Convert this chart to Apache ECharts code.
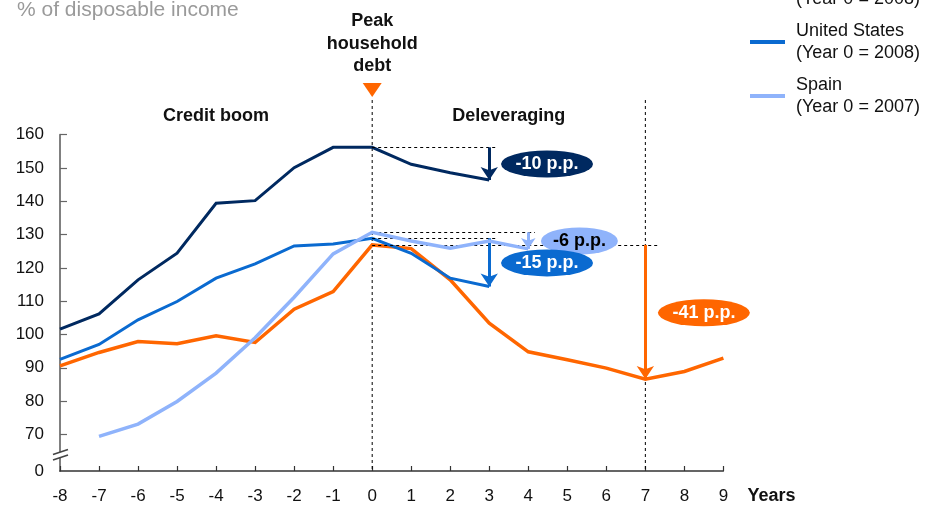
<!DOCTYPE html>
<html>
<head>
<meta charset="utf-8">
<script src="https://cdn.jsdelivr.net/npm/echarts@6/dist/echarts.min.js"></script>
<style>
  html, body { margin: 0; padding: 0; background: #fff; }
  #chart { width: 930px; height: 506px; }
</style>
</head>
<body>
<div id="chart"></div>
<script>
// household debt, % of disposable income, by year relative to the peak (year 0)
const years = [-8, -7, -6, -5, -4, -3, -2, -1, 0, 1, 2, 3, 4, 5, 6, 7, 8, 9];
const ukDebt = [101.6, 106.2, 116.4, 124.4, 139.4, 140.2, 150.1, 156.2, 156.2, 151.1, 148.6, 146.4, null, null, null, null, null, null];
const usDebt = [92.5, 97.0, 104.4, 109.9, 116.9, 121.2, 126.6, 127.2, 128.9, 124.4, 116.9, 114.4, null, null, null, null, null, null];
const spainDebt = [null, 69.4, 73.1, 79.9, 88.4, 99.0, 111.2, 124.2, 130.7, 128.1, 125.9, 128.1, 125.7, null, null, null, null, null];
const swedenDebt = [90.6, 94.6, 97.9, 97.2, 99.6, 97.6, 107.6, 112.9, 126.9, 125.8, 116.4, 103.4, 94.8, 92.4, 89.9, 86.6, 88.9, 92.9];

const seriesNames = ['United Kingdom\n(Year 0 = 2008)', 'Sweden\n(Year 0 = 1988)', 'United States\n(Year 0 = 2008)', 'Spain\n(Year 0 = 2007)'];
const troughYears = [3, 7, 3, 4];
const dropLabels = ['-10 p.p.', '-41 p.p.', '-15 p.p.', '-6 p.p.'];
const yTicks = [70, 80, 90, 100, 110, 120, 130, 140, 150, 160];
const yBottom = 59; // broken axis: the bottom is labelled 0

const FONT = '"Liberation Sans", Arial, Helvetica, sans-serif';
const INK = '#111';

// looks for each series (same order as seriesNames)
const looks = [
  { color: '#002960', width: 3, guideTo: 3.2, pill: [4.48, 151.2], pillW: 92, pillText: '#fff', arrow: 13, z: 2 },
  { color: '#ff6600', width: 3.5, guideTo: 7.33, pill: [8.5, 106.5], pillW: 92, pillText: '#fff', arrow: 13, z: 3 },
  { color: '#0a6ad0', width: 3, guideTo: 3.2, pill: [4.48, 121.5], pillW: 92, pillText: '#fff', arrow: 13, z: 4, pillZ: 7 },
  { color: '#8fb3fb', width: 3.5, guideTo: 4.17, pill: [5.31, 128.1], pillW: 77, pillText: '#000', arrow: 11, z: 5, pillZ: 6 }
];
const allValues = [ukDebt, swedenDebt, usDebt, spainDebt];

const peakIdx = years.indexOf(0);

const series = allValues.map((vals, k) => {
  const look = looks[k];
  const peak = vals[peakIdx];
  const trough = vals[years.indexOf(troughYears[k])];
  return {
    type: 'line',
    name: seriesNames[k],
    data: years.map((x, i) => [x, vals[i]]).filter(d => d[1] != null),
    showSymbol: false,
    symbol: 'none',
    z: look.z,
    lineStyle: { color: look.color, width: look.width, join: 'miter' },
    itemStyle: { color: look.color },
    markLine: {
      silent: true,
      animation: false,
      symbol: 'none',
      label: { show: false },
      data: [
        [
          { coord: [0, peak], lineStyle: { color: '#000', width: 1, type: [3, 3] } },
          { coord: [look.guideTo, peak] }
        ],
        [
          { coord: [troughYears[k], peak], symbol: 'none', lineStyle: { color: look.color, width: 3, type: 'solid' } },
          { coord: [troughYears[k], trough], symbol: 'arrow', symbolSize: look.arrow }
        ]
      ]
    },
    markPoint: {
      silent: true,
      animation: false,
      z: look.pillZ || 5,
      symbol: 'circle',
      symbolSize: [look.pillW, 27],
      itemStyle: { color: look.color },
      label: {
        show: true,
        position: 'inside',
        color: look.pillText,
        fontSize: 18,
        fontWeight: 'bold',
        fontFamily: FONT
      },
      data: [{ coord: look.pill, value: dropLabels[k], label: { formatter: dropLabels[k] } }]
    }
  };
});

const chart = echarts.init(document.getElementById('chart'), null, { renderer: 'canvas' });

const option = {
  animation: false,
  textStyle: { fontFamily: FONT },
  title: {
    text: '% of disposable income',
    left: 17,
    top: 0,
    padding: 0,
    textStyle: { color: '#9a9a9a', fontSize: 21, fontWeight: 'normal', lineHeight: 21, fontFamily: FONT }
  },
  legend: {
    data: [seriesNames[0], seriesNames[2], seriesNames[3]],
    orient: 'vertical',
    left: 750,
    top: -45,
    padding: 0,
    itemGap: -12,
    icon: 'rect',
    itemWidth: 35,
    itemHeight: 4,
    selectedMode: false,
    textStyle: { color: INK, fontSize: 18, lineHeight: 22, fontFamily: FONT, padding: [22, 0, 0, 6] }
  },
  grid: { left: 60, right: 206.6, top: 134.7, bottom: 35 },
  xAxis: {
    type: 'value',
    min: -8,
    max: 9,
    interval: 1,
    name: 'Years',
    nameLocation: 'end',
    nameGap: 24,
    nameTextStyle: { color: INK, fontSize: 18, fontWeight: 'bold', fontFamily: FONT, verticalAlign: 'top', lineHeight: 18, padding: [16, 0, 0, 0] },
    axisLine: { onZero: false, lineStyle: { color: '#333', width: 1.5 } },
    axisTick: { inside: true, length: 5, lineStyle: { color: '#333', width: 1.2 } },
    axisLabel: { color: INK, fontSize: 17, margin: 17, fontFamily: FONT },
    splitLine: { show: false }
  },
  yAxis: {
    type: 'value',
    min: yBottom,
    max: 160,
    axisLine: { show: true, onZero: false, lineStyle: { color: '#808080', width: 2 } },
    axisTick: { show: true, inside: true, length: 7, customValues: yTicks, lineStyle: { color: '#666', width: 1.2 } },
    axisLabel: {
      color: INK,
      fontSize: 17,
      margin: 16,
      fontFamily: FONT,
      customValues: [yBottom].concat(yTicks),
      formatter: v => (v === yBottom ? '0' : String(v))
    },
    splitLine: { show: false }
  },
  series: series
};

chart.setOption(option);

// annotations placed through the chart's own scales
const at = (x, y) => chart.convertToPixel({ gridIndex: 0 }, [x, y]);
const base = at(-8, yBottom);
const peakX = at(0, yBottom)[0];
const endX = at(7, yBottom)[0];
const boomX = at(-4, yBottom)[0];
const delevX = at(3.5, yBottom)[0];
const bold18 = 'bold 18px ' + FONT;

chart.setOption({
  graphic: [
    { type: 'line', silent: true, shape: { x1: peakX, y1: 100, x2: peakX, y2: base[1] }, style: { stroke: '#000', lineWidth: 1, lineDash: [3, 3] }, z: 1 },
    { type: 'line', silent: true, shape: { x1: endX, y1: 100, x2: endX, y2: base[1] }, style: { stroke: '#000', lineWidth: 1, lineDash: [3, 3] }, z: 1 },
    { type: 'polygon', silent: true, shape: { points: [[peakX - 9.5, 83], [peakX + 9.5, 83], [peakX, 97]] }, style: { fill: '#ff6600' } },
    { type: 'text', silent: true, x: peakX, y: 44, style: { text: 'Peak\nhousehold\ndebt', font: bold18, fill: INK, align: 'center', verticalAlign: 'middle', lineHeight: 22.5 } },
    { type: 'text', silent: true, x: boomX, y: 116, style: { text: 'Credit boom', font: bold18, fill: INK, align: 'center', verticalAlign: 'middle' } },
    { type: 'text', silent: true, x: delevX, y: 116, style: { text: 'Deleveraging', font: bold18, fill: INK, align: 'center', verticalAlign: 'middle' } },
    // axis break mark
    { type: 'rect', silent: true, shape: { x: base[0] - 3, y: base[1] - 19, width: 6, height: 5.5 }, style: { fill: '#fff' }, z: 10 },
    { type: 'line', silent: true, shape: { x1: base[0] - 7, y1: base[1] - 16.5, x2: base[0] + 8, y2: base[1] - 21.5 }, style: { stroke: '#444', lineWidth: 1.5 }, z: 11 },
    { type: 'line', silent: true, shape: { x1: base[0] - 7, y1: base[1] - 11, x2: base[0] + 8, y2: base[1] - 16 }, style: { stroke: '#444', lineWidth: 1.5 }, z: 11 }
  ]
});
</script>
</body>
</html>
